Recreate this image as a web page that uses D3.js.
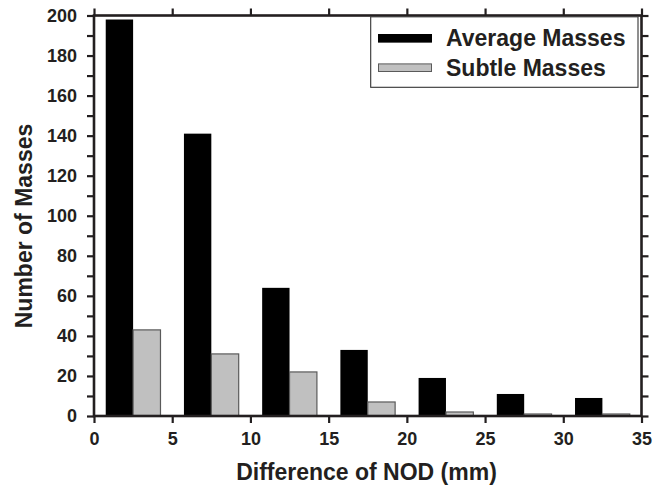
<!DOCTYPE html>
<html>
<head>
<meta charset="utf-8">
<script src="https://cdn.jsdelivr.net/npm/d3@7"></script>
<style>
  html, body { margin: 0; padding: 0; background: #fff; }
  svg { display: block; }
  text { font-family: "Liberation Sans", Arial, sans-serif; font-weight: bold; fill: #231f20; }
</style>
</head>
<body>
<svg id="chart" width="663" height="487"></svg>
<script>
// ---- data ----
const binStarts = [0, 5, 10, 15, 20, 25, 30];
const averageMasses = [198, 141, 64, 33, 19, 11, 9];
const subtleMasses = [43, 31, 22, 7, 2, 1, 1];
const seriesNames = ["Average Masses", "Subtle Masses"];
const xTicks = [0, 5, 10, 15, 20, 25, 30, 35];
const yTicks = [0, 10, 20, 30, 40, 50, 60, 70, 80, 90, 100, 110, 120, 130, 140, 150, 160, 170, 180, 190, 200];
const xTitle = "Difference of NOD (mm)";
const yTitle = "Number of Masses";

(function () {
const ink = "#231f20";
const svg = d3.select("#chart");
const x = d3.scaleLinear().domain([0, 35]).range([94, 641.5]);
const y = d3.scaleLinear().domain([0, 200]).range([416, 15.5]);
const barW = 1.75, barOff = 0.75;

// bars
const g = svg.append("g");
g.selectAll("rect.avg").data(binStarts).enter().append("rect")
  .attr("class", "avg")
  .attr("x", (d) => x(d + barOff))
  .attr("width", (d) => x(d + barOff + barW) - x(d + barOff))
  .attr("y", (d, i) => y(averageMasses[i]))
  .attr("height", (d, i) => y(0) - y(averageMasses[i]))
  .attr("fill", "#000");
g.selectAll("rect.sub").data(binStarts).enter().append("rect")
  .attr("class", "sub")
  .attr("x", (d) => x(d + barOff + barW))
  .attr("width", (d) => x(d + barOff + 2 * barW) - x(d + barOff + barW))
  .attr("y", (d, i) => y(subtleMasses[i]))
  .attr("height", (d, i) => y(0) - y(subtleMasses[i]))
  .attr("fill", "#c0c0c0")
  .attr("stroke", "#5a5a5a")
  .attr("stroke-width", 1.2);

// axes
function styleAxis(sel) {
  sel.select(".domain").remove();
  sel.selectAll(".tick line").attr("stroke", ink).attr("stroke-width", 2.2);
  sel.selectAll(".tick text").attr("fill", ink).style("font-size", "18px");
}
const axB = svg.append("g").attr("transform", `translate(0,${y(0)})`)
  .call(d3.axisBottom(x).tickValues(xTicks).tickSize(7).tickSizeOuter(0).tickFormat(d3.format("d")));
styleAxis(axB);
axB.selectAll(".tick text").attr("y", 29).attr("dy", 0);

const axT = svg.append("g").attr("transform", `translate(0,${y(200)})`)
  .call(d3.axisTop(x).tickValues(xTicks).tickSize(7).tickSizeOuter(0).tickFormat(""));
styleAxis(axT);

const axL = svg.append("g").attr("transform", `translate(${x(0)},0)`)
  .call(d3.axisLeft(y).tickValues(yTicks).tickSize(7).tickPadding(10).tickSizeOuter(0)
    .tickFormat((d) => (d % 20 === 0 ? d : "")));
styleAxis(axL);

const axR = svg.append("g").attr("transform", `translate(${x(35)},0)`)
  .call(d3.axisRight(y).tickValues(yTicks).tickSize(7).tickSizeOuter(0).tickFormat(""));
styleAxis(axR);

// frame
svg.append("rect")
  .attr("x", x(0)).attr("y", y(200))
  .attr("width", x(35) - x(0)).attr("height", y(0) - y(200))
  .attr("fill", "none").attr("stroke", ink).attr("stroke-width", 2.6);

// titles
svg.append("text").attr("x", 366.5).attr("y", 480)
  .attr("text-anchor", "middle").style("font-size", "23px").text(xTitle);
svg.append("text").attr("transform", "translate(32,226) rotate(-90)")
  .attr("text-anchor", "middle").style("font-size", "23px").text(yTitle);

// legend
const lg = svg.append("g");
lg.append("rect").attr("x", 370.7).attr("y", 16.8).attr("width", 267.3).attr("height", 70.5)
  .attr("fill", "#fff").attr("stroke", "#333").attr("stroke-width", 1.1);
const legendFills = ["#000", "#c0c0c0"];
const legendStrokes = ["#000", "#5a5a5a"];
const legendRows = [38.3, 67.7];
seriesNames.forEach((name, i) => {
  lg.append("rect").attr("x", 378.5).attr("y", legendRows[i] - 3.8).attr("width", 53).attr("height", 7.6)
    .attr("fill", legendFills[i]).attr("stroke", legendStrokes[i]).attr("stroke-width", 1);
  lg.append("text").attr("x", 446).attr("y", legendRows[i] + 7.8)
    .style("font-size", "23px").text(name);
});
})();
</script>
</body>
</html>
